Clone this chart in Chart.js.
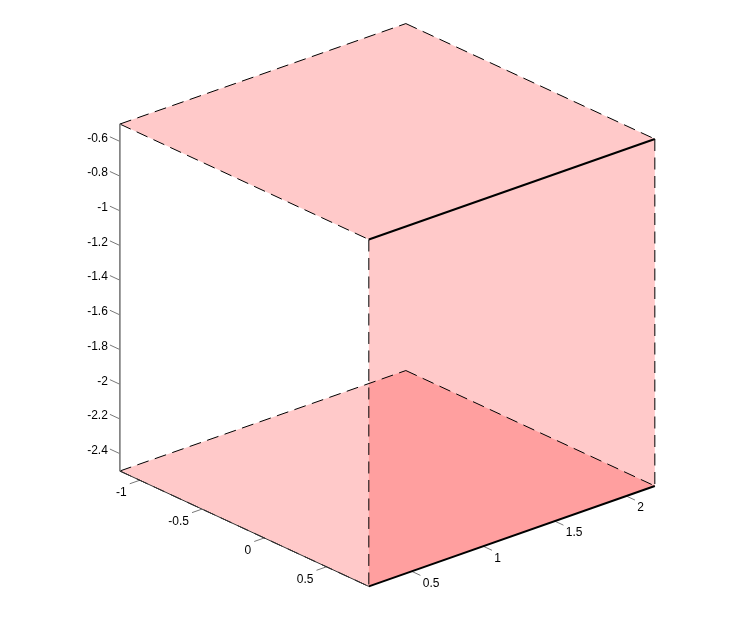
<!DOCTYPE html>
<html>
<head>
<meta charset="utf-8">
<script src="https://cdn.jsdelivr.net/npm/chart.js@4.4.1/dist/chart.umd.min.js"></script>
<style>
  html, body { margin: 0; padding: 0; background: #fff; }
  canvas { display: block; }
</style>
</head>
<body>
<canvas id="cube" width="747" height="634"></canvas>
<script>
// box limits
const xLim = [-1.16, 0.84];
const yLim = [0.2, 2.2];
const zLim = [-2.5, -0.5];

const xTicks = [-1, -0.5, 0, 0.5];
const yTicks = [0.5, 1, 1.5, 2];
const zTicks = [-2.4, -2.2, -2, -1.8, -1.6, -1.4, -1.2, -1, -0.8, -0.6];

// orthographic view
const az = 48.96 * Math.PI / 180;
const el = 23.8 * Math.PI / 180;
const pxPerUnit = 189.6;
const uMin = -1.2429, vMax = 0.6029;

function project(x, y, z) {
  return {
    x: x * Math.cos(az) + y * Math.sin(az),
    y: z * Math.cos(el) + (y * Math.cos(az) - x * Math.sin(az)) * Math.sin(el)
  };
}

const [x0, x1] = xLim, [y0, y1] = yLim, [z0, z1] = zLim;
const V = {
  A: [x0, y0, z1], B: [x0, y1, z1], C: [x1, y1, z1], D: [x1, y0, z1],
  E: [x0, y0, z0], F: [x0, y1, z0], G: [x1, y1, z0], H: [x1, y0, z0]
};
const P = k => project(...V[k]);

const faceColor = 'rgba(255,0,0,0.21)';
const datasets = [];

// faces (top, front-right, bottom)
['ABCD', 'DCGH', 'EFGH'].forEach(f => {
  const pts = f.split('').map(P);
  pts.push(pts[0]);
  datasets.push({
    data: pts, showLine: true, fill: 'shape', backgroundColor: faceColor,
    borderWidth: 0, borderColor: 'rgba(0,0,0,0)', pointRadius: 0, order: 3
  });
});

function seg(a, b, style) {
  datasets.push(Object.assign({
    data: [a, b], showLine: true, fill: false, pointRadius: 0,
    borderColor: '#000', borderWidth: 1, order: 1
  }, style));
}

// axis lines
seg(P('A'), P('E'), { borderColor: '#808080' });
seg(P('E'), P('H'), { borderColor: '#333' });

// box edges
const dashed = { borderDash: [12, 6.5] };
['AB', 'BC', 'AD', 'DH', 'CG', 'EF', 'FG', 'EH'].forEach(e => seg(P(e[0]), P(e[1]), dashed));
seg(P('D'), P('C'), { borderWidth: 2 });
seg(P('H'), P('G'), { borderWidth: 2 });

// tick marks
const tickStyle = { borderColor: '#777', order: 2 };
zTicks.forEach(t => seg(project(x0, y0, t), project(x0 - 0.08, y0, t), tickStyle));
xTicks.forEach(t => seg(project(t, y0, z0), project(t, y0 - 0.07, z0), tickStyle));
yTicks.forEach(t => seg(project(x1, t, z0), project(x1 + 0.07, t, z0), tickStyle));

const tickLabels = {
  id: 'tickLabels',
  afterDatasetsDraw(chart) {
    const { ctx, scales } = chart;
    const px = p => ({ x: scales.x.getPixelForValue(p.x), y: scales.y.getPixelForValue(p.y) });
    ctx.save();
    ctx.font = '12px "Liberation Sans", Arial, sans-serif';
    ctx.fillStyle = '#000';
    ctx.textBaseline = 'middle';

    ctx.textAlign = 'right';
    zTicks.forEach(t => {
      const p = px(project(x0, y0, t));
      ctx.fillText(String(t), p.x - 12, p.y - 3);
    });
    xTicks.forEach(t => {
      const p = px(project(t, y0, z0));
      ctx.fillText(String(t), p.x - 13, p.y + 12.5);
    });
    ctx.textAlign = 'left';
    yTicks.forEach(t => {
      const p = px(project(x1, t, z0));
      ctx.fillText(String(t), p.x + 11, p.y + 12);
    });
    ctx.restore();
  }
};

new Chart(document.getElementById('cube'), {
  type: 'scatter',
  data: { datasets },
  options: {
    responsive: false,
    animation: false,
    events: [],
    layout: { padding: 0 },
    plugins: { legend: { display: false }, tooltip: { enabled: false } },
    datasets: { scatter: { clip: false } },
    scales: {
      x: { type: 'linear', min: uMin, max: uMin + 747 / pxPerUnit, display: false },
      y: { type: 'linear', min: vMax - 634 / pxPerUnit, max: vMax, display: false }
    }
  },
  plugins: [tickLabels]
});
</script>
</body>
</html>
